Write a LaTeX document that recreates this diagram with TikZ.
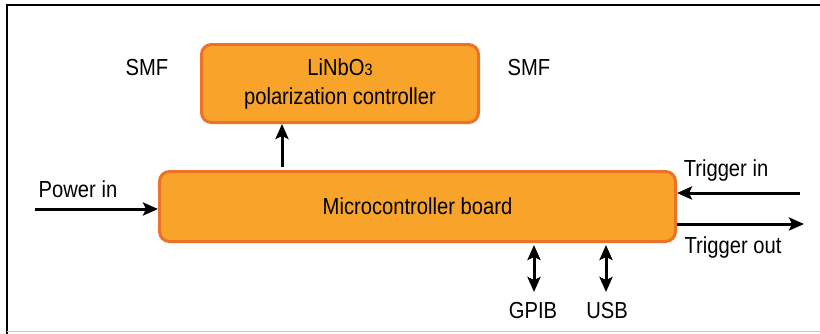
\documentclass[tikz,border=0pt]{standalone}
\usepackage{fontspec}
\setmainfont{Liberation Sans}[FakeStretch=0.87]
\usetikzlibrary{arrows.meta}
\definecolor{boxfill}{HTML}{F8A42B}
\definecolor{boxedge}{HTML}{EC7228}
\tikzset{
  unitbox/.style={draw=boxedge, fill=boxfill, line width=3pt, rounded corners=10pt,
    align=center, inner sep=0pt},
  lbl/.style={inner sep=0pt, text=black},
  sig/.style={line width=3pt, -{Stealth[length=15pt,width=13pt,inset=3pt]}},
  bisig/.style={line width=3pt, {Stealth[length=15pt,width=13pt,inset=3pt]}-{Stealth[length=15pt,width=13pt,inset=3pt]}},
}
\begin{document}
\begin{tikzpicture}[x=1pt,y=-1pt,font=\fontsize{23.2}{29}\selectfont]
\useasboundingbox (0,0) rectangle (820,333);
% outer frame
\draw[line width=2.5pt, line cap=rect] (7,333) -- (7,5) -- (820,5);
\draw[line width=1pt, black!22] (7,331.5) -- (820,331.5);

% blocks
\node[unitbox, minimum width=277pt, minimum height=78pt] (pc) at (340,83.5)
  {LiNbO{\fontsize{16.5}{16}\selectfont 3}\\polarization controller};
\node[unitbox, minimum width=516pt, minimum height=70pt] (mcb) at (417.5,206.5)
  {Microcontroller board};

% labels
\node[lbl] (smfl) at (147,68) {SMF};
\node[lbl] (smfr) at (529,68) {SMF};
\node[lbl] (pin) at (78,189) {Power in};
\node[lbl] (tin) at (726,170) {Trigger in};
\node[lbl] (tout) at (733,247) {Trigger out};
\node[lbl, anchor=north] (gpib) at (533,302) {GPIB};
\node[lbl, anchor=north] (usb) at (607,302) {USB};

% free ends of the outside connections
\coordinate (psrc) at (35,209);
\coordinate (tsrc) at (800,193);
\coordinate (tdst) at (804,224);

% connections
\draw[sig] (mcb.north -| 282,0) ++(0,-3) -- (pc.south -| 282,0);
\draw[sig] (psrc) -- (psrc -| mcb.west);
\draw[sig] (tsrc) -- (tsrc -| mcb.east);
\draw[sig] (tdst -| mcb.east) -- (tdst);
\draw[bisig] (mcb.south -| 534,0) ++(0,2) -- ([yshift=10pt]gpib.north -| 534,0);
\draw[bisig] (mcb.south -| 606,0) ++(0,2) -- ([yshift=10pt]usb.north -| 606,0);
\end{tikzpicture}
\end{document}
